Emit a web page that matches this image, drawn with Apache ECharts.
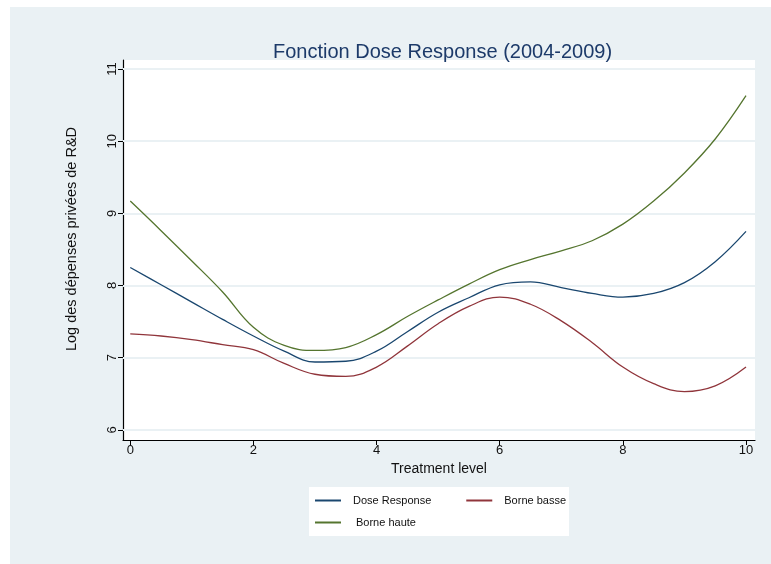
<!DOCTYPE html>
<html>
<head>
<meta charset="utf-8">
<script src="https://cdn.jsdelivr.net/npm/echarts@6/dist/echarts.min.js"></script>
<style>html,body{margin:0;padding:0;background:#fff;}#c{width:771px;height:564px;}</style>
</head>
<body>
<div id="c"></div>
<script>
const treatment = [0,0.5,1,1.5,2,2.5,3,3.5,4,4.5,5,5.5,6,6.5,7,7.5,8,8.5,9,9.5,10];
const doseResponse = [8.25,8.01,7.77,7.53,7.30,7.09,6.94,6.95,7.09,7.36,7.63,7.83,8.01,8.05,7.97,7.89,7.84,7.89,8.04,8.33,8.75];
const borneBasse = [7.33,7.30,7.25,7.18,7.11,6.92,6.77,6.74,6.87,7.16,7.47,7.71,7.84,7.74,7.51,7.21,6.87,6.64,6.53,6.61,6.87];
const borneHaute = [9.17,8.76,8.34,7.91,7.42,7.17,7.10,7.14,7.32,7.57,7.80,8.02,8.22,8.36,8.48,8.62,8.85,9.17,9.56,10.03,10.63];
const xTicks = [0,2,4,6,8,10];
const yTicks = [6,7,8,9,10,11];
const seriesNames = ['Dose Response','Borne basse','Borne haute'];

const font = "'Liberation Sans', Arial, Helvetica, sans-serif";
const pair = arr => treatment.map((x,i)=>[x,arr[i]]);
const legendText = {fontFamily:font, fontSize:11, color:'#111', padding:[0,0,0,7]};
const chart = echarts.init(document.getElementById('c'), null, {renderer:'canvas'});
chart.setOption({
  animation:false,
  backgroundColor:'#ffffff',
  graphic:[
    {type:'rect', z:-100, shape:{x:10,y:7,width:761,height:557}, style:{fill:'#eaf1f4'}, silent:true},
    {type:'rect', z:-50, shape:{x:309,y:487,width:260,height:49}, style:{fill:'#ffffff'}, silent:true}
  ],
  title:{text:'Fonction Dose Response (2004-2009)', left:268, top:37,
    textStyle:{fontFamily:font, fontSize:20, fontWeight:'normal', color:'#1c3a69'}},
  grid:{left:123, right:16, top:60, bottom:124, show:true, backgroundColor:'#ffffff', borderWidth:0, containLabel:false},
  xAxis:{type:'value', min:-0.118, max:10.146,
    name:'Treatment level', nameLocation:'middle', nameGap:21,
    nameTextStyle:{fontFamily:font, fontSize:14, color:'#111'},
    axisLine:{show:true, onZero:false, lineStyle:{color:'#000', width:1.2}},
    axisTick:{show:true, customValues:xTicks, length:5, lineStyle:{color:'#000'}},
    axisLabel:{customValues:xTicks, fontFamily:font, fontSize:13, color:'#111', margin:4},
    splitLine:{show:false}},
  yAxis:{type:'value', min:5.859, max:11.125,
    name:'Log des dépenses privées de R&D', nameLocation:'middle', nameGap:44,
    nameTextStyle:{fontFamily:font, fontSize:14.5, color:'#111', padding:[0,0,0,22]},
    axisLine:{show:true, onZero:false, lineStyle:{color:'#000', width:1.2}},
    axisTick:{show:true, customValues:yTicks, length:5, lineStyle:{color:'#000'}},
    axisLabel:{customValues:yTicks, rotate:90, fontFamily:font, fontSize:13, color:'#111', margin:4},
    splitLine:{show:false}},
  legend:[
    {data:seriesNames.slice(0,2), left:315, top:495, orient:'horizontal', padding:0, itemGap:35,
      icon:'rect', itemWidth:26, itemHeight:2, textStyle:legendText},
    {data:seriesNames.slice(2), left:315, top:517, orient:'horizontal', padding:0,
      icon:'rect', itemWidth:26, itemHeight:2, textStyle:{...legendText, padding:[4,0,0,10]}}
  ],
  series:[
    {type:'line', name:'grid', data:[], silent:true, zlevel:0, z:1,
      markLine:{silent:true, symbol:['none','none'], label:{show:false},
        lineStyle:{color:'#eaf1f4', width:2, type:'solid'},
        data:yTicks.map(v=>({yAxis:v}))}},
    {type:'line', name:seriesNames[0], data:pair(doseResponse), smooth:0.4, showSymbol:false, zlevel:1, z:3,
      lineStyle:{color:'#1a476f', width:1.3}, itemStyle:{color:'#1a476f'}},
    {type:'line', name:seriesNames[1], data:pair(borneBasse), smooth:0.4, showSymbol:false, zlevel:1, z:3,
      lineStyle:{color:'#90353b', width:1.3}, itemStyle:{color:'#90353b'}},
    {type:'line', name:seriesNames[2], data:pair(borneHaute), smooth:0.4, showSymbol:false, zlevel:1, z:3,
      lineStyle:{color:'#55752f', width:1.3}, itemStyle:{color:'#55752f'}}
  ]
});
</script>
</body>
</html>
